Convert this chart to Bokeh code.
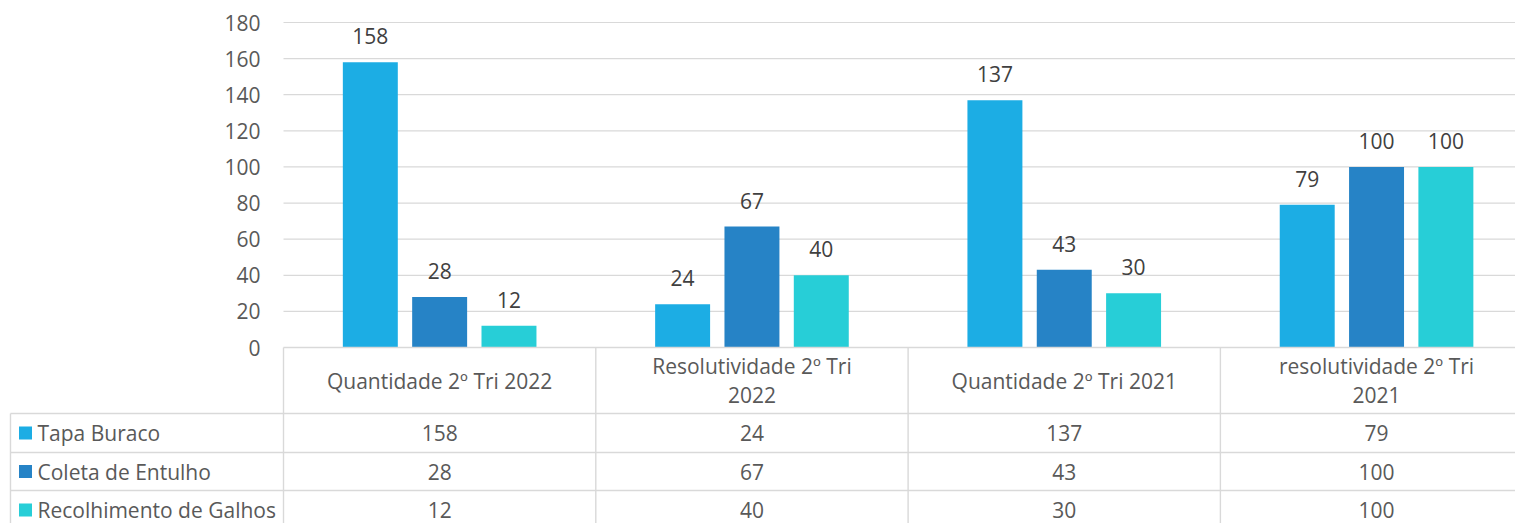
from bokeh.plotting import figure
from bokeh.models import Range1d, ColumnDataSource
from bokeh.embed import file_html
from bokeh.resources import INLINE
from bokeh.core.properties import value

# ---------------- data ----------------
categories = ["Quantidade 2º Tri 2022", "Resolutividade 2º Tri\n2022",
              "Quantidade 2º Tri 2021", "resolutividade 2º Tri\n2021"]
series_names = ["Tapa Buraco", "Coleta de Entulho", "Recolhimento de Galhos"]
tapa_buraco = [158, 24, 137, 79]
coleta_entulho = [28, 67, 43, 100]
recolhimento_galhos = [12, 40, 30, 100]
y_ticks = [0, 20, 40, 60, 80, 100, 120, 140, 160, 180]

series_values = [tapa_buraco, coleta_entulho, recolhimento_galhos]
colors = ["#1CADE4", "#2683C6", "#27CED7"]

# ---------------- layout constants ----------------
W, H = 1515, 523
FONT = "Open Sans"
FS = "21px"
TXT = "#595959"
LBL = "#404040"
GRID = "#D9D9D9"
LEFT = 283.0        # px of category 0 left edge
COLW = 312.3        # px per category
ZERO = 347.0        # px of value 0
PXU = 325.0 / 180.0  # px per value unit
BAR_W = 0.176
OFFSETS = [-0.222, 0.0, 0.222]


def ax(px):
    return (px - LEFT) / COLW


def ay(px):
    return (ZERO - px) / PXU


p = figure(width=W, height=H, output_backend="svg", toolbar_location=None,
           x_range=Range1d(ax(0), ax(W)), y_range=Range1d(ay(H), ay(0)),
           x_axis_location=None, y_axis_location=None,
           min_border=0, min_border_left=0, min_border_right=0,
           min_border_top=0, min_border_bottom=0)
p.outline_line_color = None
p.grid.visible = False
p.background_fill_color = "white"
p.border_fill_color = "white"

ncat = len(categories)
x_right = ax(W + 5)

# gridlines (value scale)
grid_src = ColumnDataSource(dict(y=y_ticks[1:]))
p.segment(x0=0, x1=x_right, y0="y", y1="y", source=grid_src,
          line_color=GRID, line_width=1.2)

# y tick labels
tick_src = ColumnDataSource(dict(y=y_ticks, t=[str(v) for v in y_ticks]))
p.text(x=ax(260), y="y", text="t", source=tick_src, text_align="right",
       text_baseline="middle", text_font=value(FONT), text_font_size=FS,
       text_color=TXT)

# bars + data labels
for vals, off, col in zip(series_values, OFFSETS, colors):
    src = ColumnDataSource(dict(x=[i + 0.5 + off for i in range(ncat)],
                                top=vals, t=[str(v) for v in vals]))
    p.vbar(x="x", top="top", bottom=0, width=BAR_W, source=src,
           fill_color=col, line_color=None)
    p.text(x="x", y="top", text="t", source=src, y_offset=-26,
           text_align="center", text_baseline="middle",
           text_font=value(FONT), text_font_size=FS, text_color=LBL)

# ---------------- data table ----------------
row_lines_px = [413, 452, 490]
row_centers_px = [432.5, 471, 509.5]
TL = 1.4

# top border (axis line) across categories
p.segment(x0=0, x1=x_right, y0=0, y1=0, line_color=GRID, line_width=TL)
# row lines
p.segment(x0=[ax(10)] * 3, x1=[x_right] * 3,
          y0=[ay(v) for v in row_lines_px], y1=[ay(v) for v in row_lines_px],
          line_color=GRID, line_width=TL)
# vertical column lines
p.segment(x0=list(range(ncat + 1)), x1=list(range(ncat + 1)),
          y0=[0] * (ncat + 1), y1=[ay(H + 5)] * (ncat + 1),
          line_color=GRID, line_width=TL)
# left border
p.segment(x0=[ax(10)], x1=[ax(10)], y0=[ay(413)], y1=[ay(H + 5)],
          line_color=GRID, line_width=TL)

# header (category labels)
hdr_src = ColumnDataSource(dict(x=[i + 0.5 for i in range(ncat)],
                                t=categories))
p.text(x="x", y=ay(380), text="t", source=hdr_src, text_align="center",
       text_baseline="middle", text_line_height=1.02,
       text_font=value(FONT), text_font_size=FS, text_color=TXT)

# legend keys + names, values
for name, vals, col, yc in zip(series_names, series_values, colors, row_centers_px):
    p.scatter(x=[ax(25)], y=[ay(yc)], marker="square", size=13,
              fill_color=col, line_color=None)
    p.text(x=[ax(37)], y=[ay(yc)], text=[name], text_align="left",
           text_baseline="middle", text_font=value(FONT),
           text_font_size=FS, text_color=TXT)
    vsrc = ColumnDataSource(dict(x=[i + 0.5 for i in range(ncat)],
                                 t=[str(v) for v in vals]))
    p.text(x="x", y=ay(yc), text="t", source=vsrc, text_align="center",
           text_baseline="middle", text_font=value(FONT),
           text_font_size=FS, text_color=TXT)

open("out.html", "w").write(file_html(p, INLINE))
